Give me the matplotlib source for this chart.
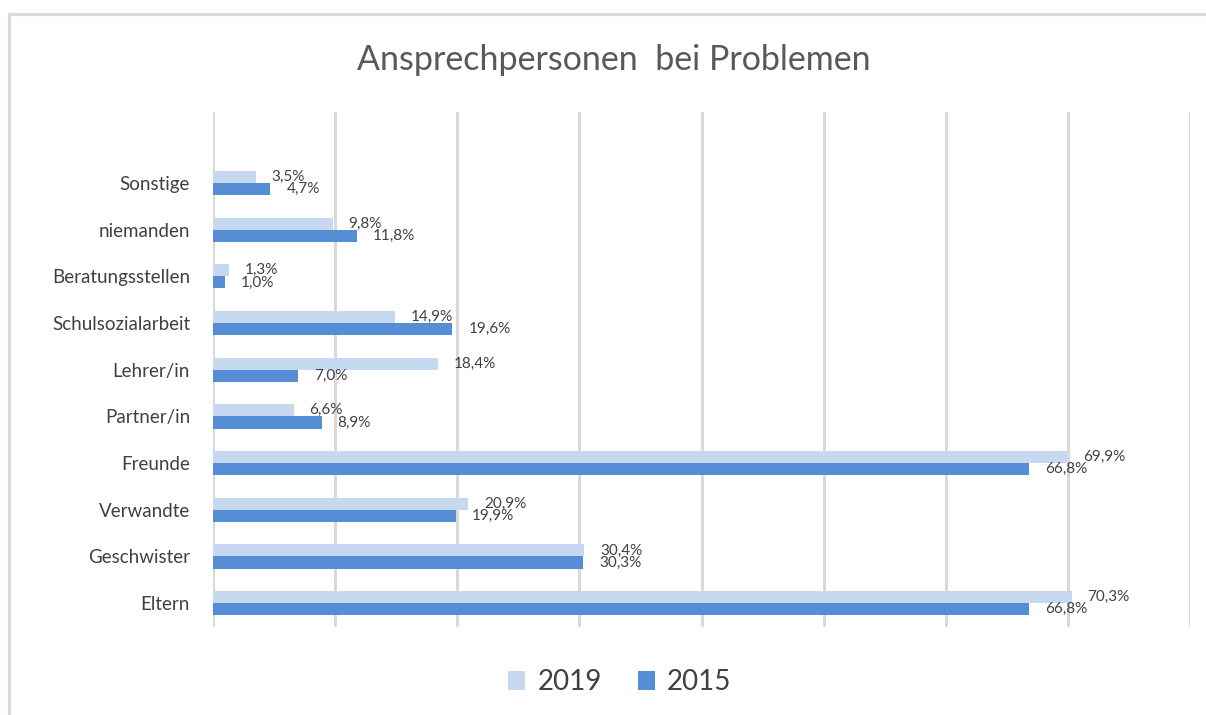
import matplotlib
matplotlib.use("Agg")
import matplotlib.pyplot as plt
from matplotlib.patches import Patch
from matplotlib.lines import Line2D
import numpy as np

categories = ["Eltern", "Geschwister", "Verwandte", "Freunde", "Partner/in",
              "Lehrer/in", "Schulsozialarbeit", "Beratungsstellen", "niemanden", "Sonstige"]
v2019 = [70.3, 30.4, 20.9, 69.9, 6.6, 18.4, 14.9, 1.3, 9.8, 3.5]
v2015 = [66.8, 30.3, 19.9, 66.8, 8.9, 7.0, 19.6, 1.0, 11.8, 4.7]
series_names = ["2019", "2015"]
title = "Ansprechpersonen  bei Problemen"

c2019 = "#C6D9F0"
c2015 = "#558ED5"
txt = "#404040"

plt.rcParams['font.family'] = ['Lato', 'DejaVu Sans']

W, H = 1206, 715
fig = plt.figure(figsize=(W / 100, H / 100), dpi=100)

# chart border (only left & top visible in the crop)
bx, by = 8.5 / W, 1 - 13.5 / H
fig.add_artist(Line2D([bx, bx], [0, by], transform=fig.transFigure,
                      color="#d9d9d9", linewidth=2.3, solid_capstyle="projecting"))
fig.add_artist(Line2D([bx, 1], [by, by], transform=fig.transFigure,
                      color="#d9d9d9", linewidth=2.3, solid_capstyle="projecting"))

ax = fig.add_axes([213 / W, 1 - 627 / H, (1190 - 213) / W, (627 - 112) / H])
y = np.arange(len(categories))
h = 0.26
ax.barh(y + h / 2, v2019, height=h, color=c2019, zorder=3)
ax.barh(y - h / 2, v2015, height=h, color=c2015, zorder=3)

def fmt(v):
    return f"{v:.1f}".replace(".", ",") + "%"

for yy, v in zip(y + h / 2, v2019):
    ax.annotate(fmt(v), (v, yy), xytext=(16, 0), textcoords="offset pixels",
                ha="left", va="center", fontsize=11, color=txt, zorder=5)
for yy, v in zip(y - h / 2, v2015):
    ax.annotate(fmt(v), (v, yy), xytext=(16, 0), textcoords="offset pixels",
                ha="left", va="center", fontsize=11, color=txt, zorder=5)

ax.set_xlim(0, 80)
ax.set_ylim(-0.51, 10.52)
ax.set_xticks(np.arange(0, 81, 10))
ax.xaxis.grid(True, color="#d9d9d9", linewidth=2.2, zorder=0)
ax.set_xticklabels([])
ax.tick_params(axis="x", length=0)
ax.set_yticks(y)
ax.set_yticklabels(categories, fontsize=13.5, color=txt)
ax.tick_params(axis="y", length=0, pad=16.5)
for s in ax.spines.values():
    s.set_visible(False)

fig.text(614 / W, 1 - 60 / H, title, ha="center", va="center", fontsize=24.5, color="#595959")

handles = [Patch(facecolor=c2019, edgecolor="none"), Patch(facecolor=c2015, edgecolor="none")]
fig.legend(handles, series_names, loc="center", bbox_to_anchor=(620 / W, 1 - 682 / H),
           ncol=2, frameon=False, fontsize=20, labelcolor=txt,
           handlelength=0.6, handleheight=0.7, handletextpad=0.45, columnspacing=1.3)

fig.savefig("out.png", dpi=100)
